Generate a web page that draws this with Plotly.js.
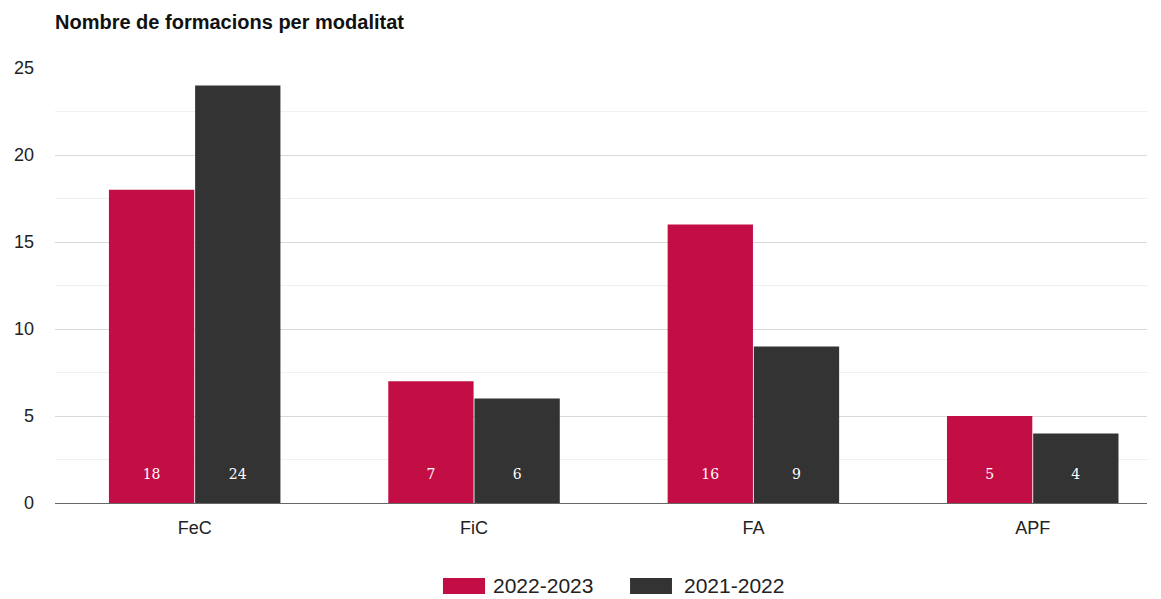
<!DOCTYPE html>
<html>
<head>
<meta charset="utf-8">
<script src="https://cdn.plot.ly/plotly-3.0.1.min.js"></script>
<style>html,body{margin:0;padding:0;background:#fff;}#chart{width:1161px;height:599px;}</style>
</head>
<body>
<div id="chart"></div>
<script>
const categories = ["FeC", "FiC", "FA", "APF"];
const series2223 = [18, 7, 16, 5];
const series2122 = [24, 6, 9, 4];
const seriesNames = ["2022-2023", "2021-2022"];
const seriesColors = ["#C20E45", "#333333"];
const yTicks = [0, 5, 10, 15, 20, 25];

const labelFont = {family: "DejaVu Serif", size: 14, color: "#ffffff"};

const seriesValues = [series2223, series2122];
const traces = seriesValues.map((vals, i) => ({
  type: "bar", name: seriesNames[i], x: categories, y: vals,
  marker: {color: seriesColors[i], line: {width: 0}},
  text: vals.map(v => String(v) + "<br> "),
  textposition: "inside", insidetextanchor: "start",
  textfont: labelFont, textangle: 0, hoverinfo: "x+y"
}));

// Custom legend (wide swatches like the reference), placed in paper coordinates
const legendSwatchX = [[0.3553, 0.3938], [0.5266, 0.5650]];
const legendTextX = [0.3993, 0.5742];
const legendShapes = seriesNames.map((n, i) => ({
  type: "rect", xref: "paper", yref: "paper",
  x0: legendSwatchX[i][0], x1: legendSwatchX[i][1], y0: -0.2092, y1: -0.1724,
  fillcolor: seriesColors[i], line: {width: 0}
}));
const legendAnnotations = seriesNames.map((n, i) => ({
  xref: "paper", yref: "paper", x: legendTextX[i], y: -0.1908,
  xanchor: "left", yanchor: "middle", showarrow: false, text: n,
  font: {family: "Liberation Sans, Arial, sans-serif", size: 21, color: "#222222"}
}));

const layout = {
  width: 1161, height: 599,
  margin: {l: 55, r: 14, t: 68, b: 96, autoexpand: false},
  paper_bgcolor: "#ffffff", plot_bgcolor: "#ffffff",
  font: {family: "Liberation Sans, Arial, sans-serif", color: "#222222"},
  title: {
    text: "<b>Nombre de formacions per modalitat</b>",
    font: {family: "Liberation Sans, Arial, sans-serif", size: 20, color: "#111111"},
    xref: "paper", x: 0, xanchor: "left",
    yref: "container", y: 0.963, yanchor: "middle"
  },
  barmode: "group", bargap: 0.383, bargroupgap: 0.01,
  xaxis: {
    type: "category", range: [-0.5, 3.409],
    showline: true, linecolor: "#666666", linewidth: 1,
    ticks: "", showgrid: false, zeroline: false, ticklabelstandoff: 8,
    tickfont: {size: 18, color: "#222222"}, fixedrange: true
  },
  yaxis: {
    range: [0, 25], tickvals: yTicks,
    showgrid: true, gridcolor: "#d9d9d9", gridwidth: 1,
    minor: {dtick: 2.5, showgrid: true, gridcolor: "#f0f0f0", gridwidth: 1, ticks: ""},
    zeroline: false, showline: false, ticks: "",
    tickfont: {size: 18, color: "#222222"}, ticklabelstandoff: 20, fixedrange: true
  },
  showlegend: false,
  shapes: legendShapes,
  annotations: legendAnnotations
};

Plotly.newPlot("chart", traces, layout, {displayModeBar: false, staticPlot: true});
</script>
</body>
</html>
